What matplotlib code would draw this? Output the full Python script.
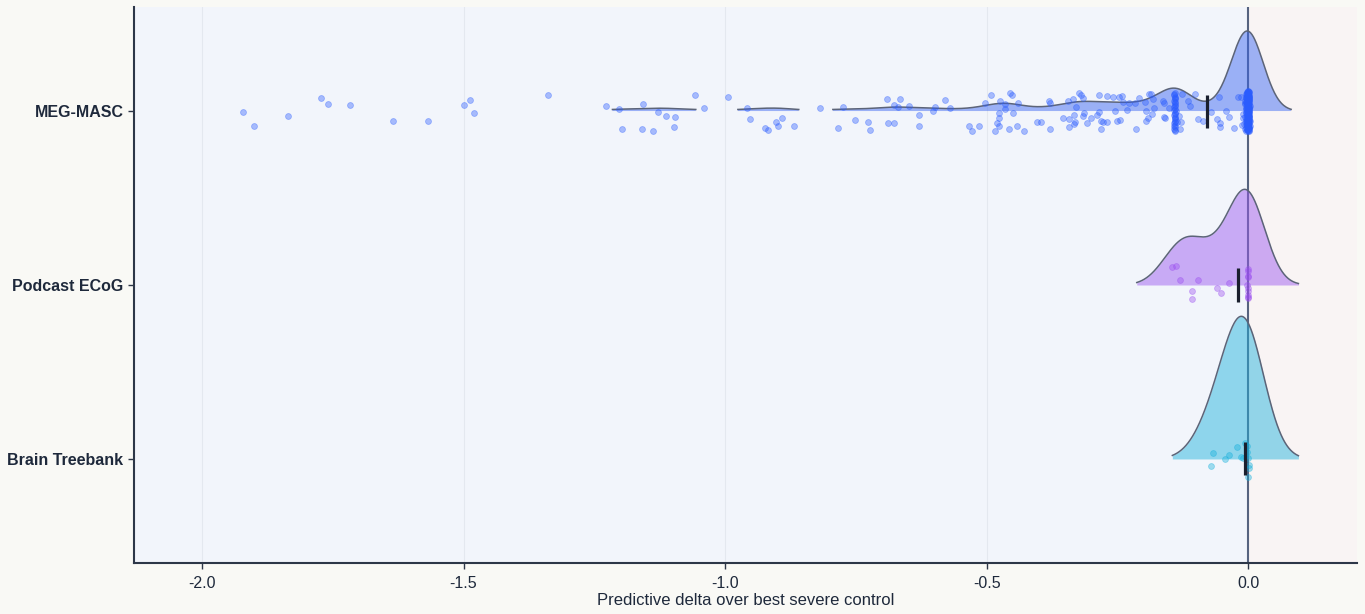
import numpy as np
import matplotlib
matplotlib.use("Agg")
import matplotlib.pyplot as plt

# dataset names, top to bottom
datasets = ["MEG-MASC", "Podcast ECoG", "Brain Treebank"]

# (delta, vertical jitter)
meg_points = [
    (-1.922, 0.006), (-1.901, 0.086), (-1.836, 0.029), (-1.772, -0.075), (-1.759, -0.040),
    (-1.717, -0.034), (-1.635, 0.057), (-1.568, 0.057), (-1.499, -0.034), (-1.488, -0.063),
    (-1.480, 0.011), (-1.338, -0.092), (-1.228, -0.029), (-1.203, -0.011), (-1.197, 0.103),
    (-1.159, 0.103), (-1.157, -0.040), (-1.138, 0.115), (-1.128, 0.006), (-1.113, 0.029),
    (-1.098, 0.092), (-1.096, 0.034), (-1.057, -0.092), (-1.040, -0.017), (-0.994, -0.080),
    (-0.958, -0.017), (-0.952, 0.046), (-0.924, 0.098), (-0.918, 0.109), (-0.902, 0.063),
    (-0.899, 0.086), (-0.891, 0.040), (-0.868, 0.086), (-0.818, -0.017), (-0.784, 0.098),
    (-0.774, -0.023), (-0.751, 0.052), (-0.727, 0.063), (-0.723, 0.109), (-0.690, -0.069),
    (-0.688, 0.069), (-0.677, -0.034), (-0.677, 0.069), (-0.665, -0.069), (-0.669, -0.023),
    (-0.648, -0.029), (-0.629, 0.023), (-0.629, 0.086), (-0.602, 0.000), (-0.598, -0.023),
    (-0.579, -0.063), (-0.570, -0.017), (-0.533, 0.086), (-0.528, 0.115), (-0.514, 0.086),
    (-0.503, -0.046), (-0.491, -0.092), (-0.484, 0.115), (-0.480, 0.069), (-0.476, 0.011),
    (-0.476, 0.040), (-0.476, 0.086), (-0.474, -0.057), (-0.465, -0.011), (-0.465, -0.040),
    (-0.457, 0.103), (-0.455, -0.103), (-0.451, -0.092), (-0.449, 0.011), (-0.442, 0.086),
    (-0.440, -0.046), (-0.428, 0.115), (-0.403, 0.063), (-0.396, 0.063), (-0.380, -0.057),
    (-0.379, -0.046), (-0.379, 0.103), (-0.354, 0.040), (-0.344, -0.057), (-0.342, 0.046),
    (-0.342, 0.092), (-0.335, -0.069), (-0.333, 0.075), (-0.333, 0.023), (-0.331, 0.063),
    (-0.329, -0.023), (-0.323, -0.103), (-0.319, -0.092), (-0.315, -0.075), (-0.315, 0.029),
    (-0.314, 0.011), (-0.308, 0.069), (-0.300, 0.040), (-0.289, 0.023), (-0.285, -0.092),
    (-0.285, 0.006), (-0.281, 0.103), (-0.281, 0.057), (-0.277, 0.063), (-0.270, -0.086),
    (-0.270, 0.063), (-0.258, -0.080), (-0.254, 0.000), (-0.250, 0.057), (-0.247, -0.080),
    (-0.239, -0.052), (-0.231, -0.006), (-0.228, -0.046), (-0.241, -0.086), (-0.245, 0.052),
    (-0.216, -0.046), (-0.214, 0.103), (-0.208, -0.075), (-0.197, -0.052), (-0.195, 0.000),
    (-0.195, 0.057), (-0.191, 0.040), (-0.189, -0.098), (-0.185, -0.098), (-0.184, 0.017),
    (-0.182, -0.069), (-0.180, -0.017), (-0.163, -0.057), (-0.161, -0.046), (-0.161, 0.034),
    (-0.159, 0.040), (-0.151, -0.017),
    # column around -0.14
    (-0.140, -0.103), (-0.141, -0.091), (-0.139, -0.080), (-0.140, -0.068), (-0.142, -0.057),
    (-0.140, -0.046), (-0.139, -0.034), (-0.141, -0.023), (-0.140, -0.011), (-0.138, 0.000),
    (-0.140, 0.011), (-0.141, 0.023), (-0.140, 0.034), (-0.139, 0.046), (-0.140, 0.057),
    (-0.142, 0.069), (-0.140, 0.080), (-0.139, 0.092), (-0.141, 0.103), (-0.140, 0.113),
    (-0.141, -0.097), (-0.140, -0.074), (-0.139, -0.051), (-0.140, -0.029), (-0.141, -0.006),
    (-0.140, 0.017), (-0.139, 0.040), (-0.140, 0.063), (-0.141, 0.086), (-0.140, 0.108),
    (-0.136, 0.063), (-0.132, 0.029), (-0.130, 0.103), (-0.128, 0.063), (-0.126, -0.098),
    (-0.115, -0.057), (-0.111, -0.029), (-0.101, -0.098), (-0.096, 0.046), (-0.086, 0.057),
    (-0.071, 0.006), (-0.059, 0.046), (-0.055, -0.080), (-0.054, 0.069), (-0.054, 0.092),
    (-0.042, 0.000), (-0.036, 0.034), (-0.027, 0.098), (-0.019, -0.080), (-0.013, -0.080),
    # column at zero
    (-0.002, -0.112), (0.000, -0.097), (-0.004, -0.081), (0.002, -0.066), (-0.006, -0.049),
    (0.000, -0.035), (-0.003, -0.018), (0.001, -0.004), (-0.005, 0.011), (0.000, 0.027),
    (-0.002, 0.043), (0.003, 0.058), (-0.008, 0.072), (0.000, 0.089), (-0.001, 0.106),
    (0.000, -0.104), (-0.003, -0.088), (0.001, -0.073), (-0.007, -0.058), (0.000, -0.041),
    (-0.002, -0.026), (0.002, -0.011), (-0.004, 0.004), (0.000, 0.019), (-0.006, 0.035),
    (0.001, 0.050), (-0.002, 0.066), (0.000, 0.081), (-0.004, 0.097), (0.002, 0.113),
    (-0.001, -0.116), (0.001, -0.092), (-0.005, -0.077), (0.000, -0.061), (-0.003, -0.045),
    (0.003, -0.030), (-0.001, -0.014), (0.000, 0.001), (-0.009, 0.015), (0.001, 0.031),
    (-0.003, 0.047), (0.000, 0.062), (-0.005, 0.077), (0.002, 0.093), (-0.002, 0.109),
    (0.001, -0.108), (-0.002, -0.085), (0.000, -0.069), (-0.004, -0.053), (0.002, -0.038),
    (-0.001, -0.022), (0.000, -0.007), (-0.003, 0.008), (0.001, 0.023), (-0.010, 0.039),
    (0.000, 0.054), (-0.001, 0.070), (0.003, 0.085), (-0.006, 0.101), (0.000, 0.117),
    (-0.004, -0.100), (0.000, -0.094), (-0.001, -0.079), (0.001, -0.063), (-0.002, -0.047),
    (0.000, -0.032), (-0.005, -0.016), (0.002, -0.001), (-0.001, 0.013), (0.000, 0.029),
    (-0.004, 0.045), (0.001, 0.060), (-0.002, 0.075), (0.000, 0.091), (-0.003, 0.104),
    (0.000, -0.114), (-0.001, -0.099), (0.002, -0.083), (-0.003, -0.071), (0.000, -0.055),
    (-0.007, -0.040), (0.001, -0.024), (-0.002, -0.009), (0.000, 0.006), (-0.001, 0.021),
    (0.002, 0.037), (-0.003, 0.052), (0.000, 0.068), (-0.012, 0.083), (0.001, 0.099),
    (-0.002, -0.106), (0.000, -0.090), (-0.003, -0.075), (0.001, -0.059), (-0.001, -0.043),
    (0.000, -0.028), (-0.004, -0.012), (0.002, 0.003), (-0.002, 0.017), (0.000, 0.033),
    (-0.001, 0.049), (0.001, 0.064), (-0.003, 0.079), (0.000, 0.095), (-0.001, 0.111),
    (0.001, -0.110), (-0.002, -0.095), (0.000, -0.078), (-0.001, -0.064), (0.002, -0.048),
    (-0.003, -0.033), (0.000, -0.019), (-0.001, -0.003), (0.001, 0.012), (-0.002, 0.026),
    (0.000, 0.041), (-0.004, 0.057), (0.001, 0.073), (-0.001, 0.087), (0.000, 0.102),
    (-0.003, -0.102), (0.001, -0.087), (-0.001, -0.070), (0.000, -0.056), (-0.002, -0.039),
    (0.001, -0.025), (-0.001, -0.010), (0.000, 0.005), (-0.003, 0.020), (0.002, 0.036),
    (-0.001, 0.051), (0.000, 0.067), (-0.002, 0.082), (0.001, 0.098), (-0.004, 0.114),
    (0.000, -0.109), (-0.001, -0.093), (0.001, -0.076), (-0.002, -0.060), (0.000, -0.046),
    (-0.001, -0.031), (0.002, -0.015), (-0.002, 0.000), (0.000, 0.016), (-0.001, 0.032),
    (0.001, 0.046), (-0.003, 0.061), (0.000, 0.078), (-0.002, 0.092), (0.001, 0.108),
]

podcast_points = [
    (-0.145, -0.103), (-0.138, -0.109), (-0.130, -0.029), (-0.107, 0.034), (-0.107, 0.080),
    (-0.096, -0.029), (-0.059, 0.017), (-0.052, 0.046), (-0.036, -0.011),
    (-0.001, -0.092), (0.000, -0.080), (-0.001, -0.052), (0.000, -0.046), (-0.002, 0.000),
    (0.000, 0.017), (-0.001, 0.034), (0.000, 0.057), (-0.001, 0.069), (0.000, 0.075),
]

treebank_points = [
    (-0.071, 0.040), (-0.067, -0.034), (-0.044, 0.000), (-0.036, -0.023), (-0.021, -0.069),
    (-0.013, -0.011), (-0.010, -0.006), (-0.006, -0.092), (-0.002, -0.075), (0.000, -0.006),
    (0.002, 0.034), (0.002, 0.052), (0.000, 0.103), (-0.002, -0.040),
]

# median marker per dataset
medians = [-0.078, -0.019, -0.006]

# styling
fill_colors = ["#3a66f2", "#9b59ef", "#22b2dc"]
point_colors = ["#2a5cff", "#9a4cf0", "#10aedb"]
bandwidths = [0.030, 0.034, 0.037]
peak_heights = [0.46, 0.55, 0.82]
cut_fracs = [0.0195, 0.0, 0.0]
density_right = 0.096
ink = "#1e293b"

all_points = [meg_points, podcast_points, treebank_points]

fig = plt.figure(figsize=(13.65, 6.14), dpi=100)
fig.patch.set_facecolor("#f9f9f5")
ax = fig.add_axes([134 / 1365, 1 - 563 / 614, 1223 / 1365, 556 / 614])
ax.set_facecolor("#f2f5fb")

ax.set_xlim(-2.130, 0.208)
ax.set_ylim(2.598, -0.598)

# pinkish area right of zero
ax.axvspan(0, 0.3, color="#f9f4f4", zorder=0, lw=0)
for gx in [-2.0, -1.5, -1.0, -0.5]:
    ax.axvline(gx, color="#e4e8ef", lw=0.8, zorder=0.5)
ax.axvline(0, color="#56637f", lw=1.5, zorder=1)

for i, pts in enumerate(all_points):
    pts = np.array(pts)
    x, jit = pts[:, 0], pts[:, 1]
    bw = bandwidths[i]

    # gaussian kde, drawn as a half violin above the row
    grid = np.linspace(x.min() - 2 * bw, density_right, 1500)
    dens = np.exp(-0.5 * ((grid[:, None] - x[None, :]) / bw) ** 2).sum(axis=1)
    dens = dens / dens.max()
    keep = dens >= cut_fracs[i]
    top = i - dens * peak_heights[i]
    line = np.where(keep, top, np.nan)
    ax.fill_between(grid, i, top, where=keep, color=fill_colors[i], alpha=0.48, lw=0, zorder=2)
    ax.plot(grid, line, color="#5c6478", lw=1.1, zorder=3)

    ax.scatter(x, i + jit, s=18, color=point_colors[i], alpha=0.38, lw=0.6,
               edgecolors=point_colors[i], zorder=4)

    ax.plot([medians[i], medians[i]], [i - 0.095, i + 0.095], color="#1a1f2e", lw=2.3,
            solid_capstyle="butt", zorder=5)

ax.set_yticks(range(len(datasets)))
ax.set_yticklabels(datasets, fontsize=11.5, fontweight="bold", color=ink, family="Liberation Sans")
ax.set_xticks([-2.0, -1.5, -1.0, -0.5, 0.0])
ax.set_xticklabels(["-2.0", "-1.5", "-1.0", "-0.5", "0.0"], fontsize=11.5, color=ink,
                   family="Liberation Sans")
ax.set_xlabel("Predictive delta over best severe control", fontsize=12, color=ink,
              family="Liberation Sans", labelpad=2)
ax.tick_params(axis="both", length=4, width=1, color="#2d3748")
ax.tick_params(axis="x", pad=5)

for side in ["top", "right"]:
    ax.spines[side].set_visible(False)
for side in ["left", "bottom"]:
    ax.spines[side].set_color("#2d3748")
    ax.spines[side].set_linewidth(1.5)

plt.savefig("out.png", dpi=100, facecolor=fig.get_facecolor())
plt.close()
